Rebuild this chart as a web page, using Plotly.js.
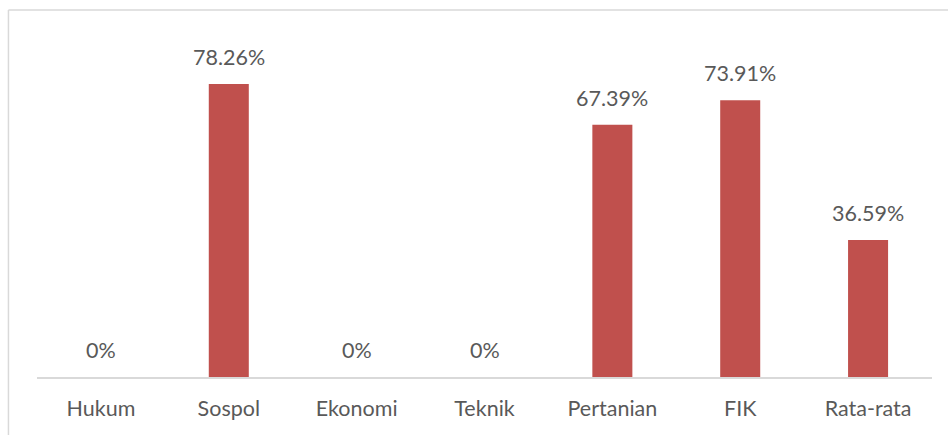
<!DOCTYPE html>
<html>
<head>
<meta charset="utf-8">
<script src="https://cdn.plot.ly/plotly-3.0.1.min.js"></script>
<style>
  html, body { margin: 0; padding: 0; background: #ffffff; }
  #chart { width: 948px; height: 435px; }
</style>
</head>
<body>
<div id="chart"></div>
<script>
const categories = ["Hukum", "Sospol", "Ekonomi", "Teknik", "Pertanian", "FIK", "Rata-rata"];
const values = [0, 78.26, 0, 0, 67.39, 73.91, 36.59];
const labels = ["0%", "78.26%", "0%", "0%", "67.39%", "73.91%", "36.59%"];

const barColor = "#C0504D";
const textColor = "#595959";
const fontFamily = "Lato, 'Open Sans', sans-serif";

const trace = {
  type: "bar",
  x: categories,
  y: values,
  marker: { color: barColor },
  hoverinfo: "skip"
};

const annotations = categories.map((c, i) => ({
  x: c,
  y: values[i],
  xref: "x",
  yref: "y",
  text: labels[i],
  showarrow: false,
  yanchor: "bottom",
  yshift: 12,
  font: { family: fontFamily, size: 21.5, color: textColor }
}));

const layout = {
  width: 948,
  height: 435,
  margin: { l: 37, r: 16, t: 10, b: 58 },
  paper_bgcolor: "#ffffff",
  plot_bgcolor: "#ffffff",
  bargap: 0.687,
  showlegend: false,
  xaxis: {
    type: "category",
    showline: true,
    linecolor: "#D9D9D9",
    linewidth: 1.5,
    showgrid: false,
    zeroline: false,
    ticks: "",
    ticklabelstandoff: 12,
    tickfont: { family: fontFamily, size: 21.5, color: textColor }
  },
  yaxis: {
    range: [0, 98],
    visible: false,
    showgrid: false,
    zeroline: false,
    fixedrange: true
  },
  annotations: annotations,
  shapes: [
    { type: "line", xref: "paper", yref: "paper", x0: -0.0319, x1: 1.05, y0: 1.0, y1: 1.0,
      line: { color: "#D9D9D9", width: 1.5 } },
    { type: "line", xref: "paper", yref: "paper", x0: -0.0319, x1: -0.0319, y0: 1.0, y1: -0.2,
      line: { color: "#D9D9D9", width: 1.5 } }
  ]
};

Plotly.newPlot("chart", [trace], layout, { displayModeBar: false, staticPlot: true });
</script>
</body>
</html>
